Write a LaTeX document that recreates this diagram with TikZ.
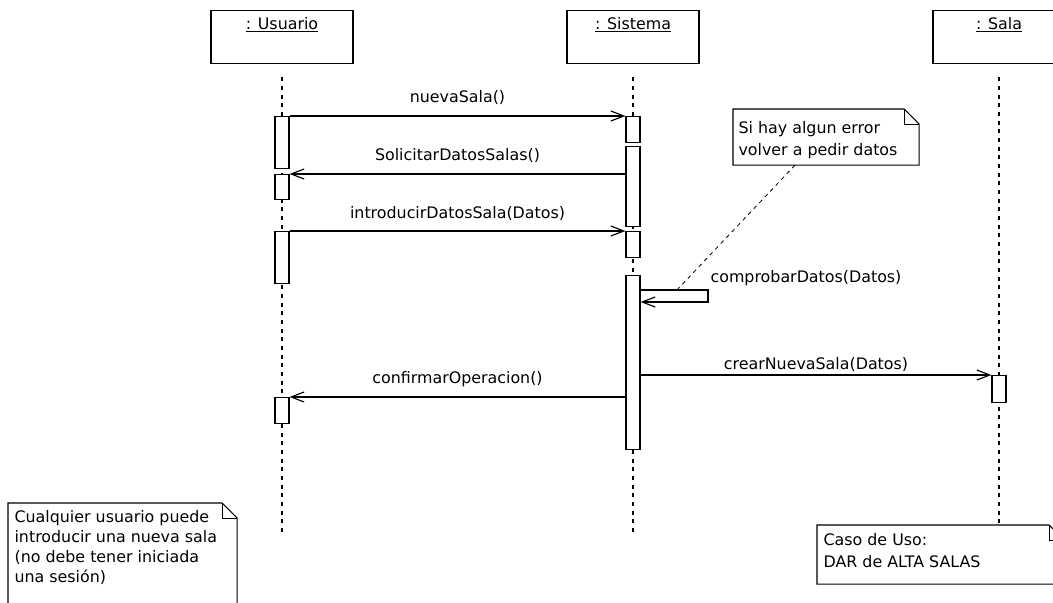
\documentclass[tikz,border=0pt]{standalone}
\usepackage{fontspec}
\setmainfont{DejaVu Sans}
\usetikzlibrary{arrows.meta}
\begin{document}
\begin{tikzpicture}[x=0.75pt,y=-0.75pt,
  font=\fontsize{11.9}{15.75}\selectfont,
  every node/.style={inner sep=0pt},
  line width=0.85pt,
  head/.style={draw, anchor=north, minimum width=#1, text height=14.25pt, text depth=25.5pt},
  act/.style={draw, fill=white, anchor=north, minimum width=10.5pt, minimum height=#1},
  life/.style={line width=0.8pt, dash pattern=on 3pt off 3.5pt},
  msg/.style={-{Straight Barb[length=9.75pt,width=7.5pt]}},
  lbl/.style={midway, yshift=#1, text height=8.8pt, text depth=2.4pt},
  lbl/.default=13.1pt,
  notebox/.style={anchor=north west},
  notetext/.style={anchor=north west, align=left},
  noteline/.style={line width=0.6pt, dash pattern=on 3pt off 3pt}
]
\useasboundingbox (0,0) rectangle (1053,603);
\clip (0,0) rectangle (1053,603);

% lifeline heads
\node[head=106.5pt] (usr) at (282,10) {\underline{: Usuario}};
\node[head=99pt] (sis) at (633,10) {\underline{: Sistema}};
\node[head=99pt] (sal) at (999,10) {\underline{: Sala}};

% notes (outlines)
\node[notebox, minimum width=138.75pt, minimum height=41.25pt] (n1) at (733,109) {};
\node[notebox, minimum width=171pt, minimum height=97.5pt] (n2) at (8,503) {};
\node[notebox, minimum width=184.5pt, minimum height=43.5pt] (n3) at (817,525) {};

% lifelines
\coordinate (uend) at (282,532);
\coordinate (send) at (633,532);
\draw[life] ([yshift=-10pt]usr.south) -- (uend);
\draw[life] ([yshift=-10pt]sis.south) -- (send);
\draw[life] ([yshift=-10pt]sal.south) -- (sal |- n3.north);

% activations
\node[act=39pt]    (u1) at (282,116) {};
\node[act=18.75pt] (u2) at (282,174) {};
\node[act=39pt]    (u3) at (282,231) {};
\node[act=19.5pt]  (u4) at (282,397) {};
\node[act=19.5pt]  (s1) at (633,116) {};
\node[act=60pt]    (s2) at (633,146) {};
\node[act=19.5pt]  (s3) at (633,231) {};
\node[act=130.5pt] (s4) at (633,275) {};
\node[act=20.25pt] (a1) at (999,375) {};

% messages
\draw[msg] (u1.north east) -- (s1.north west) node[lbl] (l1) {nuevaSala()};
\draw[msg] (s2.west |- u2.north) -- (u2.north east) node[lbl=13.6pt] (l2) {SolicitarDatosSalas()};
\draw[msg] (u3.north east) -- (s3.north west) node[lbl=12.6pt] (l3) {introducirDatosSala(Datos)};
\coordinate (selfA) at (708,290);
\coordinate (selfB) at (708,302);
\draw[msg] (s4.east |- selfA) -- (selfA) -- (selfB) -- (s4.east |- selfB);
\node[anchor=base west] (l4) at (710,282) {comprobarDatos(Datos)};
\draw[msg] (s4.east |- a1.north) -- (a1.north west) node[lbl=7.5pt] (l5) {crearNuevaSala(Datos)};
\draw[msg] (s4.west |- u4.north) -- (u4.north east) node[lbl] (l6) {confirmarOperacion()};

% note outlines with folded corner
\foreach \n in {n1,n2,n3} {
  \draw[fill=white] (\n.south west) -- (\n.north west) -- ([xshift=-11.25pt]\n.north east)
     -- ([yshift=-11.25pt]\n.north east) -- (\n.south east) -- cycle;
  \draw[line width=0.7pt] ([xshift=-11.25pt]\n.north east) -- ++(0,15) -- ([yshift=-11.25pt]\n.north east);
}

% note texts
\node[notetext, font=\fontsize{11.9}{16.1}\selectfont] (t1) at (738,121) {Si hay algun error\\volver a pedir datos};
\node[notetext, font=\fontsize{11.9}{15}\selectfont] (t2) at (14,510) {Cualquier usuario puede\\introducir una nueva sala\\(no debe tener iniciada\\una sesión)};
\node[notetext, font=\fontsize{11.9}{16.5}\selectfont] (t3) at (823,533) {Caso de Uso:\\DAR de ALTA SALAS};

% note connector
\coordinate (nc) at (675,292);
\draw[noteline] ([xshift=46.5pt]n1.south west) -- (nc);
\end{tikzpicture}
\end{document}
